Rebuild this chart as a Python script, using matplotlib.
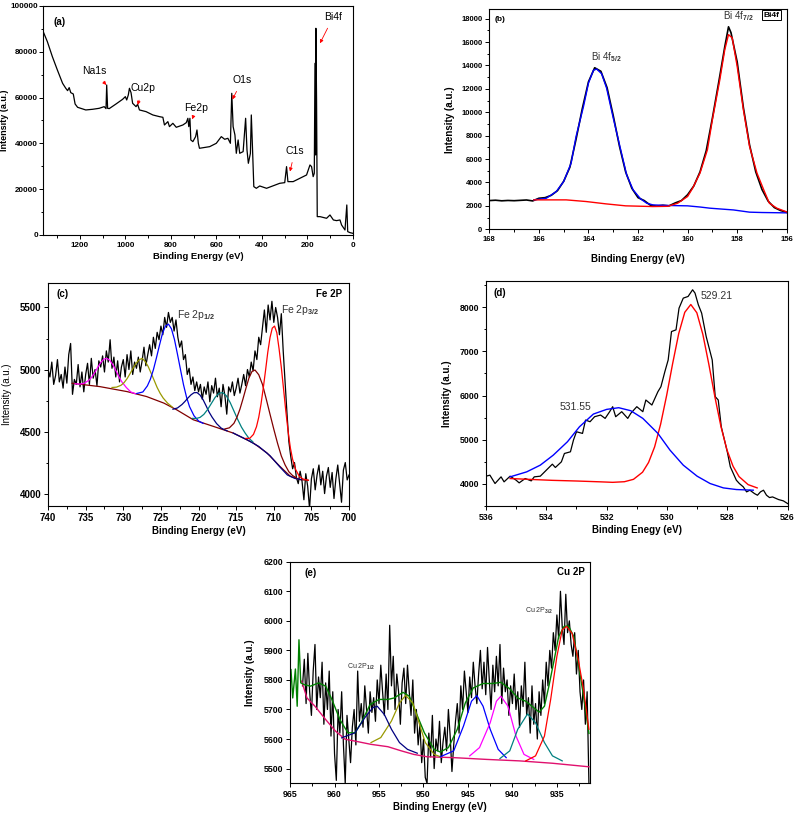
import numpy as np
import matplotlib
matplotlib.use('Agg')
import matplotlib.pyplot as plt
from matplotlib.ticker import MultipleLocator

plt.rcParams['font.family'] = ['Liberation Sans', 'DejaVu Sans']
plt.rcParams['font.weight'] = 'bold'
plt.rcParams['axes.labelweight'] = 'bold'
plt.rcParams['axes.linewidth'] = 0.8
plt.rcParams['mathtext.fontset'] = 'custom'
plt.rcParams['mathtext.rm'] = 'Liberation Sans'
plt.rcParams['mathtext.it'] = 'Liberation Sans:italic'
plt.rcParams['mathtext.bf'] = 'Liberation Sans:bold'
plt.rcParams['mathtext.default'] = 'rm'

# ---------------- (a) survey ----------------
a_x = [1360, 1343, 1321, 1299, 1276, 1262, 1254, 1247, 1240, 1229, 1221, 1210, 1174, 1144,
       1115, 1093, 1085, 1082, 1078, 1071, 1041, 1012, 1000, 994, 987, 982, 975, 968, 953,
       946, 938, 909, 879, 850, 835, 828, 813, 806, 791, 776, 747, 732, 725, 721, 716, 712,
       703, 691, 685, 679, 674, 629, 600, 578, 563, 549, 538, 532, 526, 518, 512, 504, 497,
       482, 471, 465, 459, 450, 446, 441, 435, 424, 409, 379, 321, 299, 291, 285, 262, 203,
       188, 181, 174, 169, 166, 163, 162, 159, 156, 144, 115, 100, 85, 71, 56, 49, 34, 26,
       22, 12, 0]
a_y = [88500, 84420, 77870, 72050, 66230, 64050, 63030, 64340, 62150, 61570, 57200, 55750,
       54590, 54880, 55310, 56040, 55170, 65500, 55310, 55170, 57200, 59240, 60400, 58950,
       61130, 64050, 62150, 57500, 56040, 57060, 54590, 53860, 52400, 51670, 51380, 48030,
       49490, 47310, 48760, 47020, 48030, 49050, 50950, 47310, 50950, 41480, 40760, 42940,
       45850, 40030, 37850, 38570, 40030, 42940, 41780, 42210, 40030, 61860, 47310, 43670,
       35660, 41480, 35660, 36390, 50950, 37120, 31300, 35660, 52400, 38570, 21110, 20380,
       21400, 20380, 22560, 22850, 29840, 23290, 23290, 26200, 30570, 29840, 25470, 26930,
       74960, 34930, 90250, 58950, 8010, 8010, 7280, 8730, 6550, 6260, 6550, 4370, 2180,
       13100, 1460, 1020, 730]
a_labels = ['Na1s', 'Cu2p', 'Fe2p', 'O1s', 'C1s', 'Bi4f']
a_text_pos = [(1137, 71600), (923, 64000), (688, 55300), (485, 67700), (254, 36800), (85, 95300)]
a_arrow_tip = [(1084, 65500), (946, 56800), (706, 50500), (529, 59200), (276, 27700), (144, 83700)]

# ---------------- (b) Bi 4f ----------------
b_x = [168.0, 167.75, 167.5, 167.25, 167.0, 166.75, 166.5, 166.25, 166.0, 165.75, 165.5,
       165.25, 165.0, 164.75, 164.5, 164.25, 164.0, 163.75, 163.5, 163.25, 163.0, 162.75,
       162.5, 162.25, 162.0, 161.75, 161.5, 161.25, 161.0, 160.75, 160.5, 160.25, 160.0,
       159.75, 159.5, 159.25, 159.0, 158.75, 158.5, 158.35, 158.25, 158.0, 157.75, 157.5,
       157.25, 157.0, 156.75, 156.5, 156.25, 156.0]
b_y = [2450, 2480, 2430, 2460, 2440, 2470, 2500, 2420, 2650, 2700, 2900, 3300, 4100, 5300,
       7700, 10300, 12600, 13800, 13500, 12100, 9700, 7100, 4900, 3500, 2700, 2450, 2050,
       1980, 2050, 2000, 2250, 2450, 2950, 3700, 4900, 6700, 9500, 12500, 15600, 17300,
       16800, 14300, 10400, 7200, 4900, 3400, 2400, 1850, 1600, 1450]
b_blue_x = [166.2, 165.7, 165.3, 165.0, 164.7, 164.5, 164.2, 164.0, 163.8, 163.67, 163.47,
            163.27, 163.0, 162.7, 162.46, 162.2, 161.9, 161.65, 161.4, 160.8, 160.0, 159.5,
            159.1, 158.6, 158.15, 157.5, 157.0, 156.0]
b_blue_y = [2510, 2650, 3220, 4080, 5650, 7930, 10500, 12490, 13580, 13690, 13290, 12070,
            9500, 6790, 4650, 3370, 2600, 2225, 2080, 2030, 2000, 1900, 1800, 1720, 1650,
            1460, 1430, 1400]
b_red_x = [166.2, 164.9, 164.1, 163.3, 162.5, 161.4, 160.8, 160.4, 160.0, 159.8, 159.5,
           159.2, 159.0, 158.7, 158.5, 158.35, 158.2, 158.0, 157.75, 157.5, 157.2, 156.9,
           156.7, 156.4, 156.0]
b_red_y = [2510, 2510, 2370, 2170, 2000, 1940, 1960, 2225, 2800, 3500, 4800, 6800, 9360,
           12780, 15350, 16630, 16350, 13920, 10210, 7070, 4790, 3220, 2225, 1800, 1480]

# ---------------- (c) Fe 2p ----------------
c_x = np.linspace(740, 700, 161)
c_y = [5000, 4940, 5060, 4880, 4950, 5080, 4900, 4960, 4850, 5020,
       4890, 5120, 5210, 4800, 4920, 4880, 5040, 4860, 4980, 4820,
       4960, 5050, 4880, 5090, 4930, 5000, 4870, 5070, 5020, 5110,
       4980, 5150, 5060, 5240, 5010, 5100, 4940, 5070, 4900, 5020,
       5080, 4940, 5120, 5000, 5150, 4960, 5060, 5010, 5100, 4980,
       5070, 5180, 5030, 5120, 5200, 5110, 5260, 5170, 5300, 5240,
       5350, 5280, 5420, 5340, 5460, 5380, 5420, 5310, 5400, 5260,
       5180, 5230, 5080, 5120, 4960, 5010, 4880, 4940, 4830, 4900,
       4820, 4880, 4760, 4860, 4800, 4900, 4740, 4870, 4810, 4930,
       4780, 4850, 4700, 4880, 4790, 4640, 4860, 4820, 4900, 4790,
       4850, 4930, 4810, 4880, 4960, 4870, 5000, 4940, 5060, 4990,
       5150, 5080, 5260, 5200, 5340, 5480, 5300, 5520, 5400, 5550,
       5380, 5500, 5420, 5280, 5450, 5150, 4900, 4650, 4420, 4300,
       4200, 4250, 4130, 4080, 4180, 4100, 3950, 4160, 4060, 3880,
       4120, 4200, 4030, 4150, 4230, 4070, 4180, 4000, 4140, 4210,
       4050, 4170, 3960, 4120, 4230, 4080, 3930, 4190, 4250, 4110,
       4150]
c_bg_x = [736.8, 733.1, 729.5, 726.9, 724.6, 722.9, 720.7, 718.0, 715.4, 712.7, 710.9,
          709.2, 707.8, 706.5, 705.4]
c_bg_y = [4889, 4862, 4822, 4782, 4729, 4675, 4595, 4541, 4488, 4407, 4327, 4220, 4139,
          4112, 4107]
c_tail_x = [715.4, 713.5, 712.0, 710.5, 709.2, 708.2, 707.2, 706.3]
c_tail_y = [4488, 4432, 4380, 4305, 4215, 4150, 4122, 4112]
c_mag_x = [736.4, 735.8, 735.2, 734.6, 734.2, 733.8, 733.4, 733.0, 732.6, 732.2, 731.8,
           731.4, 731.0, 730.6, 730.2, 729.6, 729.0, 728.4]
c_mag_y = [4885, 4882, 4889, 4912, 4938, 4975, 5017, 5056, 5083, 5090, 5075, 5040, 4993,
           4944, 4901, 4855, 4819, 4805]
c_olv_x = [731.5, 730.9, 730.3, 729.9, 729.5, 729.1, 728.7, 728.3, 727.9, 727.5, 727.1,
           726.7, 726.3, 725.9, 725.5, 725.1, 724.7, 724.1, 723.5]
c_olv_y = [4855, 4858, 4873, 4894, 4926, 4967, 5010, 5051, 5078, 5090, 5066, 5025, 4970,
           4913, 4855, 4808, 4770, 4728, 4698]
c_blu_x = [728.2, 727.4, 726.8, 726.4, 726.0, 725.6, 725.2, 724.8, 724.4, 724.0, 723.6,
           723.2, 722.8, 722.4, 722.0, 721.6, 721.2, 720.6, 720.0, 719.4]
c_blu_y = [4807, 4819, 4868, 4922, 4998, 5093, 5194, 5290, 5350, 5366, 5328, 5242, 5123,
           5000, 4878, 4778, 4701, 4627, 4585, 4566]
c_nav_x = [723.4, 722.8, 722.2, 721.8, 721.4, 721.0, 720.6, 720.2, 719.8, 719.4, 719.0,
           718.6, 718.2, 717.6, 717.0, 716.2]
c_nav_y = [4680, 4690, 4718, 4743, 4771, 4796, 4813, 4814, 4794, 4757, 4708, 4657, 4616,
           4564, 4528, 4505]
c_tea_x = [720.8, 720.3, 719.8, 719.3, 718.8, 718.3, 717.8, 717.3, 716.8, 716.3, 715.8,
           715.3, 714.8, 714.3, 713.8, 713.3, 712.8]
c_tea_y = [4606, 4605, 4614, 4638, 4677, 4726, 4775, 4808, 4814, 4788, 4734, 4666, 4598,
           4536, 4487, 4445, 4418]
c_brn_x = [716.5, 715.9, 715.3, 714.9, 714.5, 714.1, 713.7, 713.3, 712.9, 712.5, 712.0,
           711.5, 711.0, 710.5, 710.0, 709.5, 709.0, 708.5, 708.0, 707.5, 707.0]
c_brn_y = [4521, 4530, 4566, 4615, 4680, 4762, 4849, 4932, 4984, 4996, 4958, 4879, 4761,
           4639, 4519, 4405, 4303, 4231, 4176, 4145, 4127]
c_red_x = [713.7, 713.2, 712.7, 712.3, 712.0, 711.7, 711.4, 711.1, 710.8, 710.5, 710.2,
           709.9, 709.6, 709.3, 709.0, 708.7, 708.4, 708.1, 707.8, 707.5, 707.1, 706.6,
           706.1, 705.4]
c_red_y = [4445, 4445, 4477, 4539, 4615, 4721, 4850, 4991, 5139, 5258, 5334, 5350, 5297,
           5168, 5017, 4841, 4663, 4503, 4369, 4276, 4194, 4138, 4117, 4107]

# ---------------- (d) O 1s ----------------
d_x = [536.0, 535.87, 535.7, 535.5, 535.4, 535.2, 535.0, 534.9, 534.7, 534.5, 534.4, 534.2,
       534.0, 533.8, 533.7, 533.5, 533.4, 533.2, 533.1, 533.0, 532.8, 532.7, 532.55, 532.4,
       532.2, 532.05, 531.9, 531.8, 531.7, 531.5, 531.3, 531.2, 531.0, 530.8, 530.7, 530.5,
       530.3, 530.2, 530.07, 529.96, 529.85, 529.7, 529.6, 529.46, 529.3, 529.15, 529.07,
       528.96, 528.85, 528.7, 528.5, 528.4, 528.3, 528.2, 528.0, 527.9, 527.8, 527.7, 527.6,
       527.47, 527.36, 527.25, 527.1, 527.0, 526.9, 526.8, 526.7, 526.6, 526.5, 526.3,
       526.14, 526.0]
d_y = [4174, 4197, 4008, 4159, 4046, 4174, 4083, 4023, 4121, 4068, 4159, 4174, 4310, 4446,
       4371, 4499, 4688, 4726, 4991, 5180, 5142, 5444, 5407, 5520, 5558, 5482, 5634, 5747,
       5520, 5634, 5482, 5596, 5747, 5634, 5898, 5785, 6087, 6200, 6540, 6805, 7448, 7486,
       7977, 8204, 8242, 8393, 8318, 8053, 7864, 7335, 6805, 5974, 5898, 5293, 4726, 4386,
       4235, 4083, 4008, 3932, 3819, 3857, 3781, 3743, 3819, 3857, 3743, 3690, 3705, 3645,
       3615, 3554]
d_red_x = [535.2, 534.5, 533.8, 533.0, 532.2, 531.8, 531.41, 531.11, 530.81, 530.61, 530.41,
           530.21, 530.01, 529.81, 529.61, 529.41, 529.21, 529.01, 528.81, 528.61, 528.41,
           528.21, 528.01, 527.81, 527.61, 527.31, 527.01]
d_red_y = [4121, 4100, 4080, 4065, 4046, 4035, 4049, 4103, 4264, 4485, 4836, 5352, 6005,
           6730, 7403, 7883, 8060, 7873, 7383, 6700, 5965, 5297, 4766, 4400, 4164, 3983, 3909]
d_blu_x = [535.2, 534.65, 534.2, 533.77, 533.3, 532.9, 532.44, 532.0, 531.6, 531.2, 530.8,
           530.3, 529.9, 529.46, 529.0, 528.57, 528.13, 527.7, 527.14]
d_blu_y = [4159, 4272, 4424, 4650, 4953, 5293, 5580, 5686, 5724, 5656, 5482, 5142, 4764,
           4424, 4174, 4008, 3909, 3872, 3857]

# ---------------- (e) Cu 2p ----------------
e_x = np.linspace(963.6, 931.4, 162)
e_y = [5780, 5870, 5720, 5890, 5760, 5680, 5830, 5920, 5700, 5810,
       5740, 5860, 5650, 5790, 5700, 5830, 5610, 5760, 5550, 5460,
       5700, 5620, 5760, 5580, 5450, 5680, 5600, 5520, 5640, 5700,
       5580, 5830, 5660, 5720, 5640, 5780, 5700, 5620, 5760, 5690,
       5740, 5660, 5800, 5720, 5850, 5760, 5680, 5820, 5700, 5985,
       5780, 5880, 5700, 5820, 5760, 5650, 5790, 5840, 5720, 5850,
       5760, 5680, 5800, 5620, 5700, 5580, 5650, 5520, 5600, 5470,
       5450, 5620, 5540, 5680, 5500, 5600, 5560, 5660, 5520, 5590,
       5640, 5560, 5700, 5610, 5490, 5580, 5660, 5720, 5620, 5780,
       5700, 5830, 5760, 5690, 5810, 5740, 5860, 5780, 5720, 5820,
       5900, 5770, 5860, 5750, 5910, 5800, 5700, 5850, 5760, 5880,
       5780, 5920, 5720, 5840, 5760, 5800, 5680, 5780, 5720, 5820,
       5700, 5760, 5640, 5780, 5710, 5860, 5680, 5740, 5620, 5780,
       5650, 5720, 5600, 5760, 5680, 5800, 5720, 5860, 5780, 5900,
       5840, 5960, 5900, 6020, 5940, 6100, 5980, 5920, 6090, 5960,
       6000, 5920, 5880, 5960, 5820, 5900, 5760, 5700, 5800, 5650,
       5760, 5450]
e_bg_x = [963.7, 963.1, 962.2, 961.0, 959.9, 958.8, 957.7, 955.9, 954.0, 952.5, 951.1,
          949.6, 946.6, 942.9, 939.2, 935.5, 931.4]
e_bg_y = [5796, 5739, 5711, 5666, 5627, 5599, 5593, 5582, 5574, 5560, 5548, 5540, 5537,
          5531, 5526, 5518, 5506]
e_env_x = [964.9, 964.7, 964.4, 964.2, 964.0, 963.8, 963.4, 962.7, 961.8, 961.0, 960.3,
           959.4, 958.5, 957.7, 957.0, 956.0, 955.0, 954.0, 953.3, 952.3, 951.6, 950.9,
           949.9, 948.8, 948.1, 947.2, 946.2, 945.3, 944.4, 943.3, 942.2, 941.3, 940.3,
           939.4, 938.5, 937.6, 937.0, 936.4, 935.9, 935.3, 934.8, 934.2, 933.7, 933.1,
           932.6, 932.0, 931.4]
e_env_y = [5835, 5739, 5837, 5711, 5936, 5790, 5784, 5779, 5790, 5779, 5734, 5666, 5621,
           5621, 5655, 5717, 5734, 5734, 5739, 5758, 5745, 5694, 5621, 5565, 5556, 5571,
           5633, 5722, 5773, 5788, 5788, 5792, 5770, 5739, 5728, 5706, 5691, 5711, 5779,
           5869, 5947, 5981, 5983, 5947, 5857, 5745, 5619]
e_olv_x = [955.9, 954.8, 953.6, 952.7, 952.0, 951.2, 950.5, 949.8, 948.8, 948.1]
e_olv_y = [5588, 5605, 5661, 5722, 5748, 5722, 5655, 5588, 5548, 5540]
e_nav_x = [959.2, 957.7, 956.6, 955.7, 955.2, 954.4, 953.6, 952.7, 951.8, 950.7]
e_nav_y = [5604, 5621, 5672, 5706, 5711, 5683, 5633, 5588, 5565, 5552]
e_blu_x = [948.1, 946.6, 945.5, 944.6, 944.0, 943.3, 942.5, 941.6, 940.7]
e_blu_y = [5540, 5560, 5644, 5728, 5747, 5711, 5633, 5565, 5537]
e_mag_x = [944.8, 943.7, 942.5, 941.8, 941.3, 940.5, 939.6, 938.7, 937.6]
e_mag_y = [5543, 5571, 5655, 5728, 5745, 5711, 5610, 5548, 5531]
e_tea_x = [941.4, 940.3, 939.4, 938.3, 937.4, 936.4, 935.5, 934.4]
e_tea_y = [5534, 5560, 5633, 5685, 5655, 5588, 5543, 5526]
e_red_x = [938.5, 937.4, 936.4, 935.7, 935.0, 934.4, 933.9, 933.3, 932.6, 932.0, 931.4]
e_red_y = [5526, 5543, 5610, 5734, 5880, 5970, 5981, 5958, 5869, 5767, 5633]


def style(ax, xmaj, xmin, ymaj, ymin, fs):
    ax.xaxis.set_major_locator(MultipleLocator(xmaj))
    ax.xaxis.set_minor_locator(MultipleLocator(xmin))
    ax.yaxis.set_major_locator(MultipleLocator(ymaj))
    if ymin:
        ax.yaxis.set_minor_locator(MultipleLocator(ymin))
    ax.tick_params(which='both', direction='out', labelsize=fs, width=0.7, pad=2)
    ax.tick_params(which='major', length=3)
    ax.tick_params(which='minor', length=1.8)


fig = plt.figure(figsize=(7.98, 8.17), dpi=100)

# (a)
ax = fig.add_axes([0.0545, 0.7124, 0.3875, 0.2803])
ax.plot(a_x, a_y, color='black', lw=0.9)
ax.set_xlim(1360, 0)
ax.set_ylim(0, 100000)
style(ax, 200, 100, 20000, 10000, 5.8)
ax.tick_params(axis='y', pad=1)
for lab, tp, tip in zip(a_labels, a_text_pos, a_arrow_tip):
    ax.annotate(lab, xy=tip, xytext=tp, fontsize=7.5, fontweight='normal', ha='center',
                va='center', arrowprops=dict(arrowstyle='-|>', color='red', lw=0.6,
                                             mutation_scale=5, shrinkA=3, shrinkB=0))
ax.text(1291, 93000, '(a)', fontsize=7, ha='center', va='center')
ax.set_xlabel('Binding Energy (eV)', fontsize=6.8, labelpad=2)
ax.set_ylabel('Intensity (a.u.)', fontsize=6.5)
ax.yaxis.set_label_coords(-0.11, 0.5)

# (b)
ax = fig.add_axes([0.6132, 0.7194, 0.3727, 0.2693])
ax.plot(b_x, b_y, color='black', lw=1.2)
ax.plot(b_blue_x, b_blue_y, color='#0000ff', lw=1.0)
ax.plot(b_red_x, b_red_y, color='#ff0000', lw=1.0)
ax.set_xlim(168, 156)
ax.set_ylim(0, 18800)
style(ax, 2, 1, 2000, 1000, 5.5)
ax.text(163.26, 14700, r'Bi 4f$_{5/2}$', fontsize=7, fontweight='normal', ha='center',
        va='center', color='#333333')
ax.text(157.95, 18250, r'Bi 4f$_{7/2}$', fontsize=7, fontweight='normal', ha='center',
        va='center', color='#333333')
ax.text(167.55, 17900, '(b)', fontsize=6, ha='center', va='center')
ax.text(156.6, 18300, 'Bi4f', fontsize=6, ha='center', va='center',
        bbox=dict(boxstyle='square,pad=0.2', fc='white', ec='black', lw=0.7))
ax.set_xlabel('Binding Energy (eV)', fontsize=7, labelpad=8)
ax.set_ylabel('Intensity (a.u.)', fontsize=7)
ax.yaxis.set_label_coords(-0.114, 0.5)

# (c)
ax = fig.add_axes([0.0602, 0.3807, 0.3772, 0.2733])
ax.plot(c_x, c_y, color='black', lw=0.9)
ax.plot(c_bg_x, c_bg_y, color='#800000', lw=0.9)
ax.plot(c_tail_x, c_tail_y, color='#000080', lw=0.9)
ax.plot(c_mag_x, c_mag_y, color='#ff00ff', lw=0.9)
ax.plot(c_olv_x, c_olv_y, color='#999900', lw=0.9)
ax.plot(c_blu_x, c_blu_y, color='#0000ff', lw=0.9)
ax.plot(c_nav_x, c_nav_y, color='#000080', lw=0.9)
ax.plot(c_tea_x, c_tea_y, color='#008080', lw=0.9)
ax.plot(c_brn_x, c_brn_y, color='#800000', lw=0.9)
ax.plot(c_red_x, c_red_y, color='#ff0000', lw=0.9)
ax.set_xlim(740, 700)
ax.set_ylim(3900, 5700)
style(ax, 5, 2.5, 500, 250, 7)
ax.text(722.9, 5440, r'Fe 2p$_{1/2}$', fontsize=7.5, fontweight='normal', ha='left',
        va='center', color='#333333')
ax.text(709.1, 5480, r'Fe 2p$_{3/2}$', fontsize=7.5, fontweight='normal', ha='left',
        va='center', color='#333333')
ax.text(738.1, 5612, '(c)', fontsize=7, ha='center', va='center')
ax.text(700.9, 5612, 'Fe 2P', fontsize=7, ha='right', va='center')
ax.set_xlabel('Binding Energy (eV)', fontsize=7, labelpad=2)
ax.set_ylabel('Intensity (a.u.)', fontsize=7, fontweight='normal')
ax.yaxis.set_label_coords(-0.12, 0.5)

# (d)
ax = fig.add_axes([0.609, 0.3807, 0.378, 0.2758])
ax.plot(d_x, d_y, color='black', lw=0.9)
ax.plot(d_red_x, d_red_y, color='#ff0000', lw=1.0)
ax.plot(d_blu_x, d_blu_y, color='#0000ff', lw=1.0)
ax.set_xlim(536, 526)
ax.set_ylim(3500, 8600)
style(ax, 2, 1, 1000, 500, 6.3)
ax.text(528.35, 8257, '529.21', fontsize=7.5, fontweight='normal', ha='center',
        va='center', color='#333333')
ax.text(533.05, 5731, '531.55', fontsize=7.5, fontweight='normal', ha='center',
        va='center', color='#333333')
ax.text(535.55, 8318, '(d)', fontsize=7, ha='center', va='center')
ax.set_xlabel('Binding Enegy (eV)', fontsize=7, labelpad=2)
ax.set_ylabel('Intensity (a.u.)', fontsize=7)
ax.yaxis.set_label_coords(-0.114, 0.5)

# (e)
ax = fig.add_axes([0.3635, 0.0412, 0.3756, 0.2712])
ax.plot(e_x, e_y, color='black', lw=0.9)
ax.plot(e_bg_x, e_bg_y, color='#e0106e', lw=1.0)
ax.plot(e_env_x, e_env_y, color='#008000', lw=1.0)
ax.plot(e_olv_x, e_olv_y, color='#999900', lw=0.9)
ax.plot(e_nav_x, e_nav_y, color='#000080', lw=0.9)
ax.plot(e_blu_x, e_blu_y, color='#0000ff', lw=0.9)
ax.plot(e_mag_x, e_mag_y, color='#ff00ff', lw=0.9)
ax.plot(e_tea_x, e_tea_y, color='#008080', lw=0.9)
ax.plot(e_red_x, e_red_y, color='#ff0000', lw=0.9)
ax.set_xlim(965, 931.3)
ax.set_ylim(5450, 6200)
style(ax, 5, 2.5, 100, None, 6.3)
ax.text(957.0, 5844, r'Cu 2P$_{1/2}$', fontsize=5, fontweight='normal', ha='center',
        va='center', color='#333333')
ax.text(937.0, 6034, r'Cu 2P$_{3/2}$', fontsize=5, fontweight='normal', ha='center',
        va='center', color='#333333')
ax.text(962.7, 6163, '(e)', fontsize=7, ha='center', va='center')
ax.text(931.9, 6166, 'Cu 2P', fontsize=7, ha='right', va='center')
ax.set_xlabel('Binding Energy (eV)', fontsize=7, labelpad=2)
ax.set_ylabel('Intensity (a.u.)', fontsize=7)
ax.yaxis.set_label_coords(-0.117, 0.5)

fig.savefig('out.png', dpi=100)
